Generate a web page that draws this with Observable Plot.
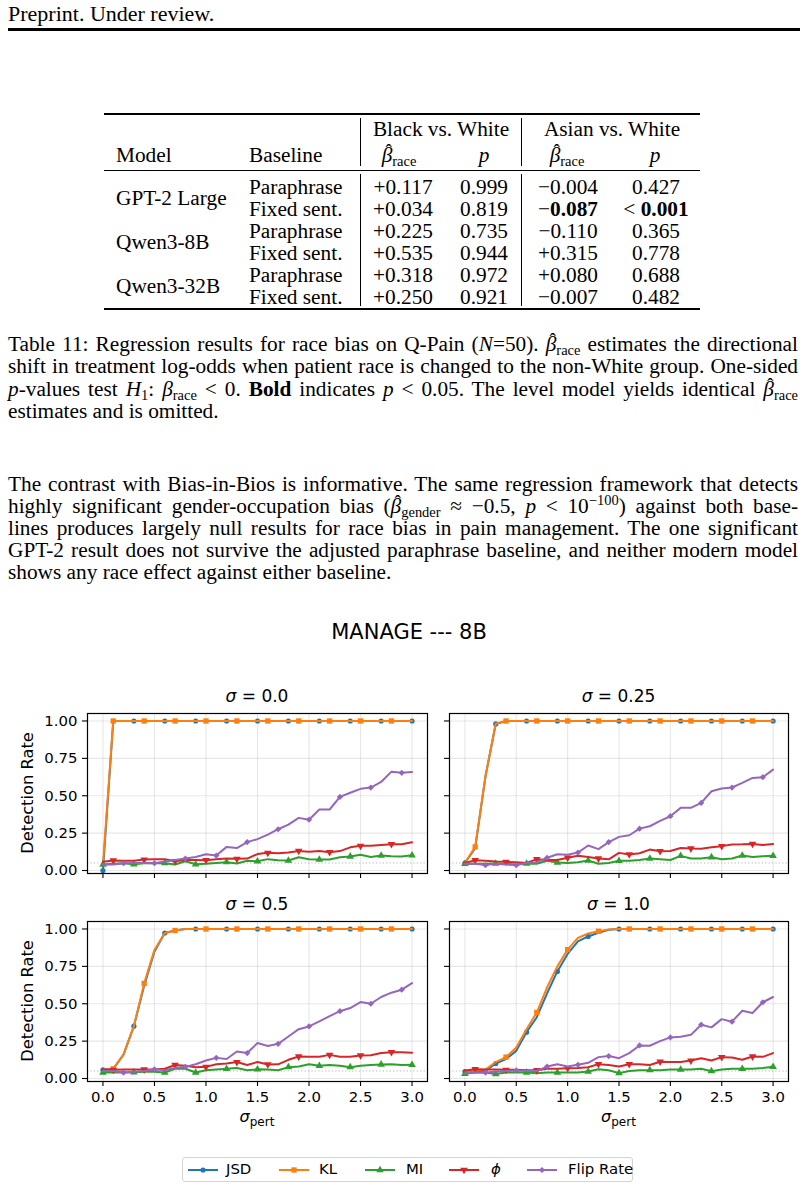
<!DOCTYPE html>
<html>
<head>
<meta charset="utf-8">
<script src="https://cdn.jsdelivr.net/npm/d3@7"></script>
<script src="https://cdn.jsdelivr.net/npm/@observablehq/plot@0.6"></script>
<style>
  body { margin: 0; background: #fff; }
  #page { position: relative; width: 808px; height: 1190px; overflow: hidden; font-family: "Liberation Serif", serif; color: #000; }
  .abs { position: absolute; white-space: nowrap; }
  .line { position: absolute; left: 8px; width: 790px; font-size: 21.3px; line-height: 22px; height: 22px; overflow: visible; }
  .j { text-align: justify; text-align-last: justify; }
  .sub { font-size: 68%; vertical-align: -0.3em; line-height: 0; }
  .sup { font-size: 68%; vertical-align: 0.55em; line-height: 0; }
  .hat { position: relative; display: inline-block; line-height: 1; }
  .hat::after { content: "ˆ"; position: absolute; left: 0.2em; top: -0.2em; font-style: normal; font-size: 0.9em; line-height: 1; }
  .rule { position: absolute; background: #000; }
  .tcell { position: absolute; font-size: 21.3px; line-height: 22px; white-space: nowrap; }
  .sans { font-family: "DejaVu Sans", sans-serif; }
  .panel { position: absolute; }
</style>
</head>
<body>
<div id="page"></div>
<script>
// ---------- Table 11 values ----------
const tableModels = ["GPT-2 Large", "Qwen3-8B", "Qwen3-32B"];
const tableBaselines = ["Paraphrase", "Fixed sent."];
const betaBlackWhite = [0.117, 0.034, 0.225, 0.535, 0.318, 0.250];
const pBlackWhite = ["0.999", "0.819", "0.735", "0.944", "0.972", "0.921"];
const betaAsianWhite = [-0.004, -0.087, -0.110, 0.315, 0.080, -0.007];
const pAsianWhite = ["0.427", "< 0.001", "0.365", "0.778", "0.688", "0.482"];

// ---------- Detection-rate curves (MANAGE, 8B) ----------
const sigmaPert = [0.0, 0.1, 0.2, 0.3, 0.4, 0.5, 0.6, 0.7, 0.8, 0.9, 1.0, 1.1, 1.2, 1.3, 1.4, 1.5,
                   1.6, 1.7, 1.8, 1.9, 2.0, 2.1, 2.2, 2.3, 2.4, 2.5, 2.6, 2.7, 2.8, 2.9, 3.0];
const xTicks = [0.0, 0.5, 1.0, 1.5, 2.0, 2.5, 3.0];
const yTicks = [0.00, 0.25, 0.50, 0.75, 1.00];
const chanceLevel = 0.05;

// sigma = 0.0
const jsd00 = [0.00, 1, 1, 1, 1, 1, 1, 1, 1, 1, 1, 1, 1, 1, 1, 1, 1, 1, 1, 1, 1, 1, 1, 1, 1, 1, 1, 1, 1, 1, 1];
const kl00  = [0.04, 1, 1, 1, 1, 1, 1, 1, 1, 1, 1, 1, 1, 1, 1, 1, 1, 1, 1, 1, 1, 1, 1, 1, 1, 1, 1, 1, 1, 1, 1];
const mi00  = [0.040, 0.045, 0.049, 0.042, 0.048, 0.051, 0.049, 0.040, 0.062, 0.042, 0.045, 0.051, 0.056, 0.047, 0.065, 0.062,
               0.076, 0.069, 0.067, 0.089, 0.076, 0.073, 0.073, 0.089, 0.094, 0.105, 0.091, 0.100, 0.096, 0.094, 0.102];
const phi00 = [0.058, 0.067, 0.065, 0.065, 0.073, 0.075, 0.075, 0.062, 0.070, 0.070, 0.069, 0.075, 0.080, 0.078, 0.080, 0.110,
               0.118, 0.115, 0.120, 0.131, 0.125, 0.130, 0.122, 0.130, 0.155, 0.165, 0.165, 0.170, 0.176, 0.175, 0.189];
const flip00 = [0.040, 0.040, 0.049, 0.050, 0.050, 0.049, 0.060, 0.070, 0.080, 0.090, 0.109, 0.100, 0.158, 0.150, 0.190, 0.210,
                0.240, 0.276, 0.307, 0.352, 0.340, 0.408, 0.408, 0.492, 0.520, 0.546, 0.555, 0.592, 0.661, 0.653, 0.659];

// sigma = 0.25
const jsd025 = [0.05, 0.15, 0.63, 0.98, 1, 1, 1, 1, 1, 1, 1, 1, 1, 1, 1, 1, 1, 1, 1, 1, 1, 1, 1, 1, 1, 1, 1, 1, 1, 1, 1];
const kl025  = [0.05, 0.158, 0.626, 0.982, 1, 1, 1, 1, 1, 1, 1, 1, 1, 1, 1, 1, 1, 1, 1, 1, 1, 1, 1, 1, 1, 1, 1, 1, 1, 1, 1];
const mi025  = [0.045, 0.045, 0.045, 0.047, 0.045, 0.040, 0.047, 0.045, 0.065, 0.053, 0.050, 0.055, 0.067, 0.045, 0.050, 0.065,
                0.065, 0.070, 0.080, 0.075, 0.070, 0.098, 0.080, 0.080, 0.089, 0.075, 0.080, 0.100, 0.090, 0.095, 0.098];
const phi025 = [0.050, 0.069, 0.065, 0.060, 0.058, 0.055, 0.050, 0.076, 0.070, 0.070, 0.085, 0.098, 0.090, 0.080, 0.075, 0.118,
                0.107, 0.115, 0.140, 0.129, 0.130, 0.151, 0.147, 0.145, 0.155, 0.163, 0.174, 0.175, 0.178, 0.170, 0.178];
const flip025 = [0.045, 0.045, 0.036, 0.045, 0.040, 0.036, 0.050, 0.055, 0.085, 0.109, 0.105, 0.120, 0.167, 0.143, 0.190, 0.225,
                 0.236, 0.280, 0.296, 0.332, 0.363, 0.419, 0.419, 0.452, 0.530, 0.548, 0.555, 0.586, 0.619, 0.624, 0.675];

// sigma = 0.5
const jsd05 = [0.058, 0.065, 0.16, 0.35, 0.62, 0.85, 0.973, 0.99, 1, 1, 1, 1, 1, 1, 1, 1, 1, 1, 1, 1, 1, 1, 1, 1, 1, 1, 1, 1, 1, 1, 1];
const kl05  = [0.060, 0.065, 0.161, 0.35, 0.636, 0.86, 0.973, 0.99, 1, 1, 1, 1, 1, 1, 1, 1, 1, 1, 1, 1, 1, 1, 1, 1, 1, 1, 1, 1, 1, 1, 1];
const mi05  = [0.040, 0.040, 0.040, 0.042, 0.045, 0.045, 0.040, 0.065, 0.065, 0.040, 0.055, 0.060, 0.065, 0.070, 0.055, 0.062,
               0.060, 0.055, 0.076, 0.080, 0.095, 0.085, 0.090, 0.085, 0.076, 0.085, 0.090, 0.094, 0.095, 0.090, 0.092];
const phi05 = [0.060, 0.058, 0.060, 0.060, 0.060, 0.060, 0.065, 0.090, 0.085, 0.075, 0.078, 0.095, 0.100, 0.110, 0.090, 0.110,
               0.094, 0.095, 0.125, 0.147, 0.145, 0.145, 0.158, 0.145, 0.145, 0.154, 0.155, 0.170, 0.176, 0.175, 0.172];
const flip05 = [0.050, 0.050, 0.040, 0.045, 0.050, 0.062, 0.055, 0.070, 0.078, 0.095, 0.120, 0.138, 0.130, 0.181, 0.170, 0.237,
                0.217, 0.232, 0.281, 0.330, 0.348, 0.382, 0.417, 0.450, 0.471, 0.511, 0.500, 0.545, 0.574, 0.594, 0.638];

// sigma = 1.0
const jsd10 = [0.047, 0.050, 0.050, 0.100, 0.130, 0.185, 0.310, 0.410, 0.570, 0.716, 0.833, 0.917, 0.950, 0.975, 0.995, 1,
               1, 1, 1, 1, 1, 1, 1, 1, 1, 1, 1, 1, 1, 1, 1];
const kl10  = [0.050, 0.055, 0.060, 0.110, 0.143, 0.207, 0.330, 0.442, 0.610, 0.750, 0.862, 0.940, 0.970, 0.985, 0.997, 1,
               1, 1, 1, 1, 1, 1, 1, 1, 1, 1, 1, 1, 1, 1, 1];
const mi10  = [0.031, 0.040, 0.040, 0.030, 0.040, 0.040, 0.040, 0.035, 0.040, 0.040, 0.040, 0.040, 0.047, 0.062, 0.055, 0.036,
               0.050, 0.055, 0.056, 0.055, 0.060, 0.060, 0.060, 0.065, 0.049, 0.060, 0.065, 0.065, 0.065, 0.070, 0.078];
const phi10 = [0.054, 0.062, 0.060, 0.060, 0.058, 0.058, 0.055, 0.055, 0.065, 0.065, 0.069, 0.070, 0.075, 0.096, 0.090, 0.080,
               0.096, 0.095, 0.090, 0.112, 0.110, 0.110, 0.120, 0.136, 0.120, 0.143, 0.140, 0.125, 0.147, 0.145, 0.170];
const flip10 = [0.033, 0.040, 0.040, 0.045, 0.050, 0.054, 0.050, 0.050, 0.080, 0.096, 0.080, 0.092, 0.105, 0.143, 0.150, 0.136,
                0.170, 0.221, 0.219, 0.250, 0.275, 0.280, 0.292, 0.360, 0.342, 0.397, 0.380, 0.453, 0.438, 0.510, 0.545];

const panelTitles = ["0.0", "0.25", "0.5", "1.0"];

// ---------- page helpers ----------
const page = document.getElementById("page");
function add(html, cls, style) {
  const el = document.createElement("div");
  el.className = cls;
  el.innerHTML = html;
  Object.assign(el.style, style);
  page.appendChild(el);
  return el;
}
function rule(left, top, width, height) {
  add("", "rule", {left: left + "px", top: top + "px", width: width + "px", height: height + "px"});
}
// text anchored at (x, yCenter); align = left | center | right
function cell(html, x, y, align = "left", extra = {}) {
  const tr = align === "center" ? "translate(-50%,0)" : align === "right" ? "translate(-100%,0)" : "none";
  return add(html, "tcell", Object.assign({left: x + "px", top: (y - 11) + "px", transform: tr}, extra));
}
// estimator symbol: italic beta with a circumflex accent and a subscript
const betaHat = (sub) => `<span class="hat"><i>β</i></span><span class="sub">${sub}</span>`;

// ---------- running head ----------
add("Preprint. Under review.", "abs", {left: "8px", top: "3px", fontSize: "22px", lineHeight: "22px"});
rule(8, 28, 792, 3);

// ---------- table ----------
rule(104, 113, 596, 1.5);
rule(104, 169.5, 596, 1);
rule(104, 308, 596, 1.5);
[360, 521].forEach(x => { rule(x, 118, 1, 48); rule(x, 174, 1, 132); });

cell("Black vs. White", 441, 129, "center");
cell("Asian vs. White", 612, 129, "center");
cell("Model", 116, 155);
cell("Baseline", 249, 155);
cell(betaHat("race"), 399, 155, "center");
cell("<i>p</i>", 484, 155, "center");
cell(betaHat("race"), 567, 155, "center");
cell("<i>p</i>", 655, 155, "center");

const isSig = (s) => s.trim().startsWith("<") || +s < 0.05;
const fmtBeta = (v, bold) => {
  const sign = v >= 0 ? "+" : "−";
  const num = Math.abs(v).toFixed(3);
  return sign + (bold ? `<b>${num}</b>` : num);
};
const fmtP = (s, bold) => {
  if (!bold) return s;
  return s.startsWith("<") ? `&lt; <b>${s.replace("<", "").trim()}</b>` : `<b>${s}</b>`;
};
tableModels.forEach((m, k) => cell(m, 116, 198 + 44 * k));
betaBlackWhite.forEach((b, i) => {
  const y = 187 + 22 * i;
  cell(tableBaselines[i % 2], 249, y);
  const s1 = isSig(pBlackWhite[i]), s2 = isSig(pAsianWhite[i]);
  cell(fmtBeta(b, s1), 403, y, "center");
  cell(fmtP(pBlackWhite[i], s1), 484, y, "center");
  cell(fmtBeta(betaAsianWhite[i], s2), 568, y, "center");
  cell(fmtP(pAsianWhite[i], s2), 656, y, "center");
});

// ---------- caption and body text ----------
const captionLines = [
  `Table 11: Regression results for race bias on Q-Pain (<i>N</i>=50). ${betaHat("race")} estimates the directional`,
  `shift in treatment log-odds when patient race is changed to the non-White group. One-sided`,
  `<i>p</i>-values test <i>H</i><span class="sub">1</span>: <i>β</i><span class="sub">race</span> &lt; 0. <b>Bold</b> indicates <i>p</i> &lt; 0.05. The level model yields identical ${betaHat("race")}`,
  `estimates and is omitted.`
];
const bodyLines = [
  `The contrast with Bias-in-Bios is informative. The same regression framework that detects`,
  `highly significant gender-occupation bias (${betaHat("gender")} ≈ −0.5, <i>p</i> &lt; 10<span class="sup">−100</span>) against both base-`,
  `lines produces largely null results for race bias in pain management. The one significant`,
  `GPT-2 result does not survive the adjusted paraphrase baseline, and neither modern model`,
  `shows any race effect against either baseline.`
];
captionLines.forEach((l, i) => add(l, "line" + (i < captionLines.length - 1 ? " j" : ""), {top: (344 - 11 + 22.3 * i) + "px"}));
bodyLines.forEach((l, i) => add(l, "line" + (i < bodyLines.length - 1 ? " j" : ""), {top: (484 - 11 + 22 * i) + "px"}));

// ---------- figure ----------
add("MANAGE --- 8B", "abs sans", {left: "409px", top: "620px", fontSize: "21px", lineHeight: "24px", transform: "translate(-50%,0)"});

const seriesDefs = [
  {key: "JSD", label: "JSD", color: "#1f77b4", symbol: "circle", r: 2.6, rotate: 0, offset: 0},
  {key: "KL", label: "KL", color: "#ff7f0e", symbol: "square", r: 3.0, rotate: 0, offset: 1},
  {key: "MI", label: "MI", color: "#2ca02c", symbol: "triangle", r: 2.8, rotate: 0, offset: 0},
  {key: "phi", label: "<i>ϕ</i>", color: "#d62728", symbol: "triangle", r: 2.8, rotate: 180, offset: 1},
  {key: "flip", label: "Flip Rate", color: "#9467bd", symbol: "diamond2", r: 2.8, rotate: 0, offset: 2}
];
const panelData = [
  {JSD: jsd00, KL: kl00, MI: mi00, phi: phi00, flip: flip00},
  {JSD: jsd025, KL: kl025, MI: mi025, phi: phi025, flip: flip025},
  {JSD: jsd05, KL: kl05, MI: mi05, phi: phi05, flip: flip05},
  {JSD: jsd10, KL: kl10, MI: mi10, phi: phi10, flip: flip10}
];
// frame boxes of the 2x2 grid: [left, top, width]
const frames = [[87, 713, 340], [449, 713, 339], [87, 920.5, 340], [449, 920.5, 339]];
const frameH = 160;
const mL = 50, mR = 12, mT = 10, mB = 32;

function panel(vals, showX, showY, innerW) {
  const rows = seriesDefs.flatMap(s => vals[s.key].map((v, i) => ({x: sigmaPert[i], v, key: s.key, i})));
  const marks = [
    Plot.gridX({ticks: xTicks, stroke: "#b0b0b0", strokeOpacity: 0.3, strokeWidth: 1.1}),
    Plot.gridY({ticks: yTicks, stroke: "#b0b0b0", strokeOpacity: 0.3, strokeWidth: 1.1}),
    Plot.ruleY([chanceLevel], {stroke: "#9a9a9a", strokeOpacity: 0.7, strokeWidth: 1.1, strokeDasharray: "1.2,2.2"}),
    Plot.axisX({ticks: xTicks, tickFormat: showX ? d3.format(".1f") : () => "", tickSize: 5, tickPadding: 5, strokeWidth: 1.1, label: null}),
    Plot.axisY({ticks: yTicks, tickFormat: showY ? d3.format(".2f") : () => "", tickSize: 5, tickPadding: 5, strokeWidth: 1.1, label: null})
  ];
  seriesDefs.forEach(s => {
    const d = rows.filter(r => r.key === s.key);
    marks.push(Plot.line(d, {x: "x", y: "v", stroke: s.color, strokeWidth: 2}));
    marks.push(Plot.dot(d.filter(r => r.i % 3 === s.offset), {
      x: "x", y: "v", fill: s.color, stroke: "none", r: s.r, symbol: s.symbol, rotate: s.rotate
    }));
  });
  marks.push(Plot.frame({stroke: "#000", strokeWidth: 1.2}));
  return Plot.plot({
    width: innerW + mL + mR,
    height: frameH + mT + mB,
    marginLeft: mL, marginRight: mR, marginTop: mT, marginBottom: mB,
    x: {type: "linear", domain: [-0.15, 3.15]},
    y: {type: "linear", domain: [-0.02, 1.05]},
    style: {fontFamily: "DejaVu Sans, sans-serif", fontSize: "14.9px", color: "#000", background: "transparent", overflow: "visible"},
    marks
  });
}

frames.forEach(([fl, ft, fw], k) => {
  const col = k % 2, row = Math.floor(k / 2);
  const chart = panel(panelData[k], row === 1, col === 0, fw);
  const wrap = add("", "panel", {left: (fl - mL) + "px", top: (ft - mT) + "px"});
  wrap.appendChild(chart);
  // panel title
  add(`<i>σ</i> = ${panelTitles[k]}`, "abs sans", {
    left: (fl + fw / 2) + "px", top: (ft - 27) + "px", fontSize: "17px", lineHeight: "20px", transform: "translate(-50%,0)"
  });
  if (col === 0) {
    add("Detection Rate", "abs sans", {
      left: "28px", top: (ft + frameH / 2) + "px", fontSize: "16.3px", lineHeight: "18px",
      transform: "translate(-50%,-50%) rotate(-90deg)"
    });
  }
  if (row === 1) {
    add(`<i>σ</i><span class="sub" style="font-size:75%">pert</span>`, "abs sans", {
      left: (fl + fw / 2) + "px", top: (ft + frameH + 27) + "px", fontSize: "16px", lineHeight: "18px", transform: "translate(-50%,0)"
    });
  }
});

// ---------- legend ----------
const legend = add("", "abs sans", {
  left: "182px", top: "1157px", width: "451px", height: "25px", border: "1px solid #d4d4d4",
  borderRadius: "3px", boxSizing: "border-box", background: "#fff"
});
const iconX = [5, 96, 182, 266, 344];
const textX = [43, 136, 223, 308, 385];
const symbolTypes = {circle: d3.symbolCircle, square: d3.symbolSquare, triangle: d3.symbolTriangle, diamond2: d3.symbolDiamond2};
seriesDefs.forEach((s, i) => {
  const path = d3.symbol(symbolTypes[s.symbol], Math.PI * s.r * s.r)();
  const icon = document.createElement("div");
  icon.innerHTML = `<svg width="30" height="12" style="display:block"><line x1="0" x2="30" y1="6" y2="6" stroke="${s.color}" stroke-width="2"/>` +
    `<path d="${path}" fill="${s.color}" transform="translate(15,6) rotate(${s.rotate})"/></svg>`;
  Object.assign(icon.style, {position: "absolute", left: iconX[i] + "px", top: "5.5px"});
  legend.appendChild(icon);
  const t = document.createElement("div");
  t.innerHTML = s.label;
  Object.assign(t.style, {position: "absolute", left: textX[i] + "px", top: "2px", fontSize: "14.9px", lineHeight: "18px", whiteSpace: "nowrap"});
  legend.appendChild(t);
});
</script>
</body>
</html>
